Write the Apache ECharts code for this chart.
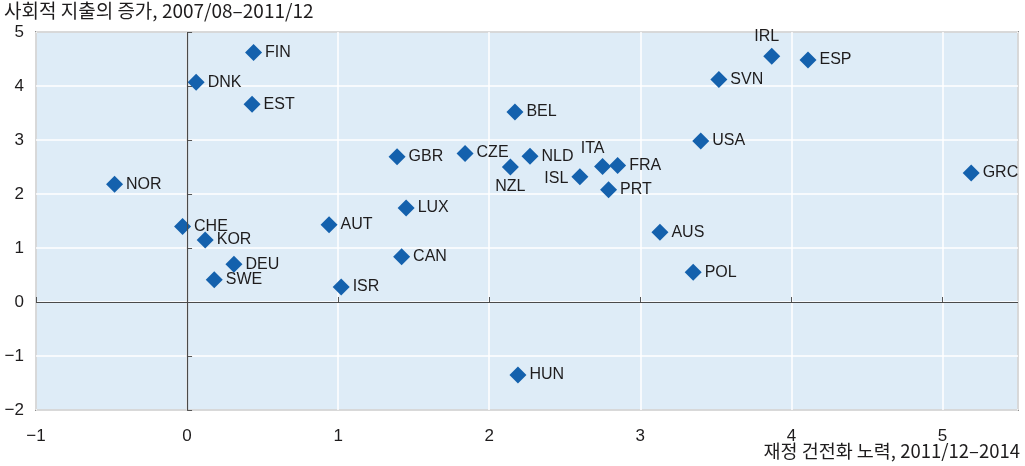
<!DOCTYPE html>
<html>
<head>
<meta charset="utf-8">
<script src="https://cdn.jsdelivr.net/npm/echarts@6/dist/echarts.min.js"></script>
<style>
  html, body { margin: 0; padding: 0; background: #fff; }
  #chart { width: 1025px; height: 466px; }
</style>
</head>
<body>
<div id="chart"></div>
<script>
// country codes, fiscal consolidation effort (x), change in social spending (y)
const countries = ['FIN', 'DNK', 'EST', 'NOR', 'CHE', 'KOR', 'DEU', 'SWE', 'AUT', 'ISR',
  'CAN', 'LUX', 'GBR', 'CZE', 'NZL', 'NLD', 'BEL', 'ISL', 'ITA', 'FRA',
  'PRT', 'AUS', 'POL', 'USA', 'SVN', 'IRL', 'ESP', 'GRC', 'HUN'];
const fiscalEffort = [0.44, 0.06, 0.43, -0.48, -0.03, 0.12, 0.31, 0.18, 0.94, 1.02,
  1.42, 1.45, 1.39, 1.84, 2.14, 2.27, 2.17, 2.60, 2.75, 2.85,
  2.79, 3.13, 3.35, 3.40, 3.52, 3.87, 4.11, 5.19, 2.19];
const socialSpending = [4.62, 4.07, 3.66, 2.18, 1.40, 1.15, 0.70, 0.41, 1.43, 0.28,
  0.84, 1.74, 2.69, 2.75, 2.50, 2.70, 3.52, 2.32, 2.51, 2.53,
  2.08, 1.29, 0.55, 2.98, 4.12, 4.55, 4.48, 2.39, -1.35];
const xTicks = [-1, 0, 1, 2, 3, 4, 5];
const yTicks = [-2, -1, 0, 1, 2, 3, 4, 5];
const yTitle = '사회적 지출의 증가, 2007/08–2011/12';
const xTitle = '재정 건전화 노력, 2011/12–2014';

// labels that don't sit to the right of their marker
const labelSpots = {
  IRL: { position: 'top', offset: [-5, 0] },
  ITA: { position: 'top', offset: [-10, 2] },
  NZL: { position: 'bottom', offset: [0, 0] },
  ISL: { position: 'left', offset: [0, 2] },
  CZE: { position: 'right', offset: [0, -1] }
};

const font = '"Liberation Sans", Arial, sans-serif';
const ink = '#1e1c1d';

const points = countries.map((c, i) => {
  const p = { name: c, value: [fiscalEffort[i], socialSpending[i]] };
  if (labelSpots[c]) p.label = labelSpots[c];
  return p;
});

const minus = v => (v < 0 ? '−' + Math.abs(v) : String(v));

const chart = echarts.init(document.getElementById('chart'), null, { renderer: 'canvas' });
chart.setOption({
  animation: false,
  graphic: [
    { type: 'text', left: 4, top: 1,
      style: { text: yTitle, font: '19px "Noto Sans CJK KR"', fill: ink } },
    { type: 'text', right: 5, top: 442,
      style: { text: xTitle, font: '18.5px "Noto Sans CJK KR"', fill: ink } }
  ],
  grid: {
    left: 36, right: 7, top: 32, bottom: 56,
    show: true, backgroundColor: '#deecf7', borderColor: '#3a3a3a', borderWidth: 1.5
  },
  xAxis: {
    type: 'value', min: xTicks[0], max: 5.5, interval: 1,
    axisLine: { show: false },
    axisTick: { show: true, inside: true, length: 5, lineStyle: { color: '#555' } },
    axisLabel: { margin: 18, fontSize: 17, fontFamily: font, color: ink, showMaxLabel: false, formatter: minus },
    splitLine: { show: true, lineStyle: { color: '#ffffff', width: 1.5 } }
  },
  yAxis: {
    type: 'value', min: yTicks[0], max: yTicks[yTicks.length - 1], interval: 1,
    axisLine: { show: false },
    axisTick: { show: true, inside: true, length: 5, lineStyle: { color: '#555' } },
    axisLabel: { margin: 12, fontSize: 17, fontFamily: font, color: ink, formatter: minus },
    splitLine: { show: true, lineStyle: { color: '#ffffff', width: 1.5 } }
  },
  series: [{
    type: 'scatter',
    symbol: 'diamond',
    symbolSize: 17,
    itemStyle: { color: '#1461ad', opacity: 1 },
    data: points,
    label: {
      show: true, position: 'right', distance: 3,
      formatter: p => p.name,
      fontFamily: font, fontSize: 16, color: ink
    },
    markLine: {
      silent: true, symbol: 'none', label: { show: false },
      lineStyle: { color: '#4a4a4a', width: 1.2, type: 'solid' },
      data: [{ xAxis: 0 }, { yAxis: 0 }]
    },
    z: 3
  }]
});
</script>
</body>
</html>
